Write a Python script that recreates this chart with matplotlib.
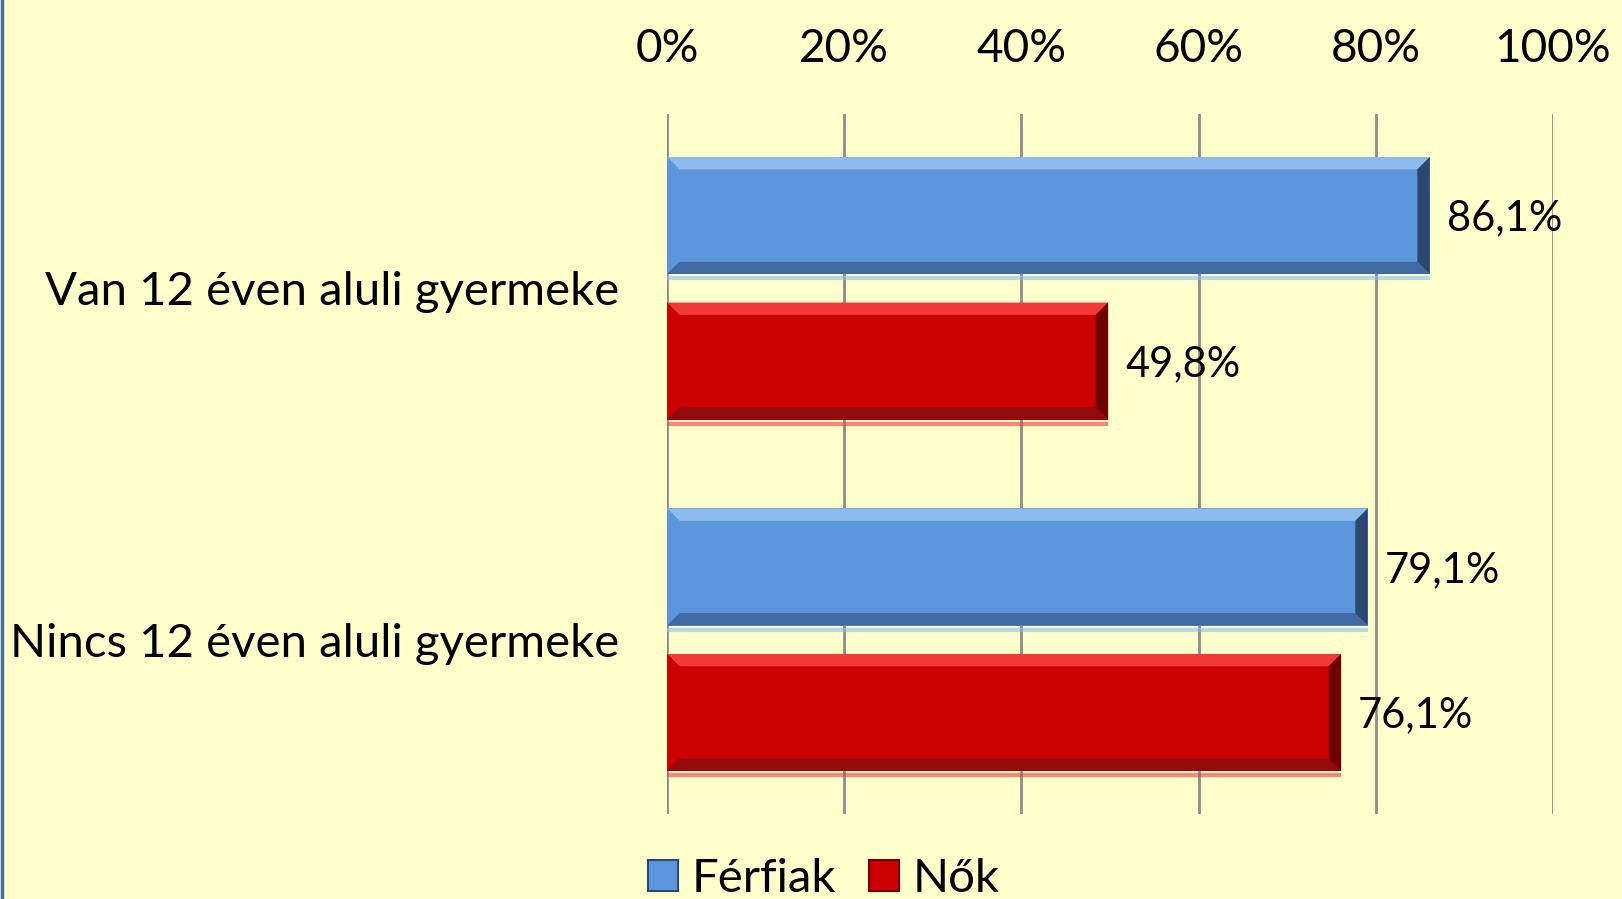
import numpy as np
import matplotlib.pyplot as plt
from matplotlib.patches import Polygon, Patch
from matplotlib.lines import Line2D

plt.rcParams['font.family'] = ['Lato', 'DejaVu Sans']

# Data
categories = ['Van 12 éven aluli gyermeke', 'Nincs 12 éven aluli gyermeke']
series_names = ['Férfiak', 'Nők']
ferfiak = [86.1, 79.1]
nok = [49.8, 76.1]
xticks = [0, 20, 40, 60, 80, 100]

bg = '#FFFFCC'
face = {'Férfiak': '#5B96DC', 'Nők': '#CC0000'}
light = {'Férfiak': '#8DBBEE', 'Nők': '#F23A3A'}
dark = {'Férfiak': '#2C4870', 'Nők': '#700000'}
darkb = {'Férfiak': '#3F6AA3', 'Nők': '#930A0A'}


def bevel(ax, patch, name, bx=1.4, by=0.035):
    # simple 3D bevel on a horizontal bar
    x0, y0 = patch.get_x(), patch.get_y()
    x1, y1 = x0 + patch.get_width(), y0 + patch.get_height()
    # y axis is inverted: y0 is the visual top
    top = [(x0, y0), (x1, y0), (x1 - bx, y0 + by), (x0 + bx, y0 + by)]
    bot = [(x0, y1), (x1, y1), (x1 - bx, y1 - by), (x0 + bx, y1 - by)]
    left = [(x0, y0), (x0 + bx, y0 + by), (x0 + bx, y1 - by), (x0, y1)]
    right = [(x1, y0), (x1 - bx, y0 + by), (x1 - bx, y1 - by), (x1, y1)]
    ax.add_patch(Polygon(top, closed=True, color=light[name], lw=0, zorder=4))
    ax.add_patch(Polygon(left, closed=True, color=face[name], lw=0, zorder=4))
    ax.add_patch(Polygon(bot, closed=True, color=darkb[name], lw=0, zorder=4))
    ax.add_patch(Polygon(right, closed=True, color=dark[name], lw=0, zorder=4))
    # faint reflection under the bar
    ax.plot([x0, x1], [y1 + 0.012, y1 + 0.012], color=light[name], lw=3,
            alpha=0.6, zorder=2, solid_capstyle='butt')


fig = plt.figure(figsize=(16.22, 8.99), dpi=100, facecolor=bg)
ax = fig.add_axes([0.4112, 0.0945, 0.5462, 0.7787])
ax.set_facecolor(bg)

y = np.arange(len(categories))
h = 0.333
off = 0.207
bars_f = ax.barh(y - off, ferfiak, height=h, color=face['Férfiak'], zorder=3)
bars_n = ax.barh(y + off, nok, height=h, color=face['Nők'], zorder=3)

for b in bars_f:
    bevel(ax, b, 'Férfiak')
for b in bars_n:
    bevel(ax, b, 'Nők')

for bars, vals in ((bars_f, ferfiak), (bars_n, nok)):
    for b, v in zip(bars, vals):
        ax.text(v + 1.9, b.get_y() + b.get_height() / 2 + 0.008,
                f'{v:.1f}%'.replace('.', ','), va='center', ha='left',
                fontsize=30, color='black', zorder=5)

ax.set_xlim(0, 100)
ax.set_ylim(1.496, -0.496)
ax.set_xticks(xticks)
ax.set_xticklabels([f'{t}%' for t in xticks], fontsize=33)
ax.xaxis.tick_top()
ax.tick_params(axis='x', length=0, pad=32)
ax.set_yticks(y)
ax.set_yticklabels(categories, fontsize=34)
ax.tick_params(axis='y', length=0, pad=34)
ax.grid(axis='x', color='#8C8C8C', lw=2, zorder=1)
ax.set_axisbelow(True)
for s in ax.spines.values():
    s.set_visible(False)

handles = [Patch(facecolor=face[n], edgecolor=dark[n], lw=1.5) for n in series_names]
fig.legend(handles, series_names, loc='center', bbox_to_anchor=(0.508, 0.022),
           ncol=2, frameon=False, fontsize=34, handlelength=0.62, handleheight=0.62,
           handletextpad=0.3, columnspacing=0.7)

# thin blue frame line on the left edge
fig.add_artist(Line2D([0.001, 0.001], [0, 1], color='#4A6FA5', lw=2.5,
                      transform=fig.transFigure))

fig.savefig('out.png', dpi=100, facecolor=bg)
